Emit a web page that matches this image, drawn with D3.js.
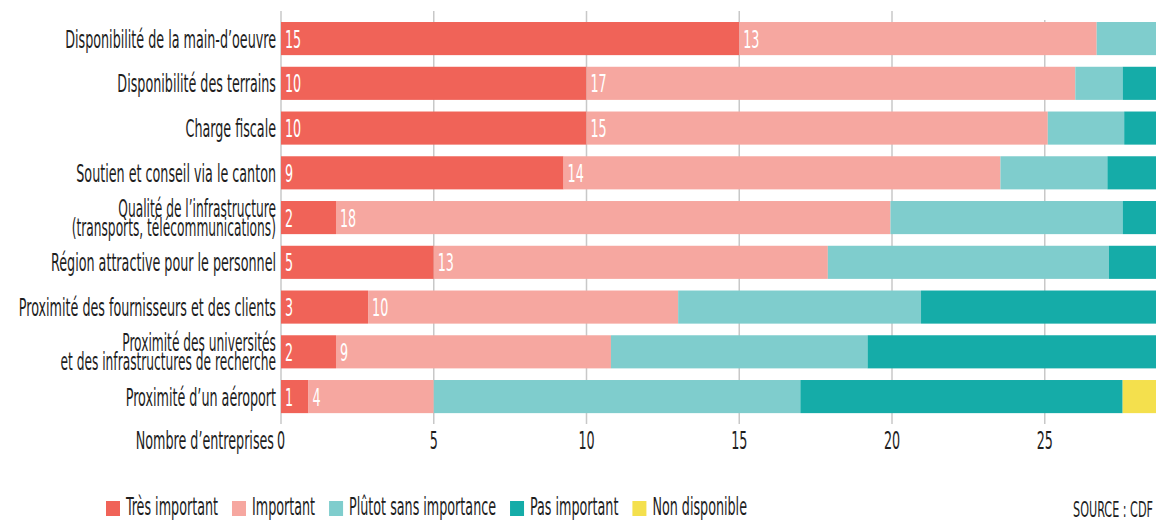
<!DOCTYPE html>
<html>
<head>
<meta charset="utf-8">
<script src="https://cdn.jsdelivr.net/npm/d3@7"></script>
<style>
  html, body { margin: 0; padding: 0; background: #fff; overflow: hidden; }
  svg { display: block; }
  text { font-family: "Liberation Sans Narrow", "DejaVu Sans Condensed", "Roboto", sans-serif; }
</style>
</head>
<body>
<svg id="chart" width="1156" height="520"></svg>
<script>
const categories = [
  "Disponibilité de la main-d’oeuvre",
  "Disponibilité des terrains",
  "Charge fiscale",
  "Soutien et conseil via le canton",
  "Qualité de l’infrastructure\n(transports, télécommunications)",
  "Région attractive pour le personnel",
  "Proximité des fournisseurs et des clients",
  "Proximité des universités\net des infrastructures de recherche",
  "Proximité d’un aéroport"
];
const seriesNames = ["Très important", "Important", "Plûtot sans importance", "Pas important", "Non disponible"];
const tresImportant = [15, 10, 10, 9.25, 1.8, 5, 2.85, 1.8, 0.9];
const important     = [11.7, 16.0, 15.1, 14.3, 18.15, 12.9, 10.15, 9.0, 4.1];
const plutotSans    = [2.3, 1.55, 2.5, 3.5, 7.6, 9.2, 7.95, 8.4, 12.0];
const pasImportant  = [0, 1.43, 1.43, 1.92, 1.43, 1.92, 8.05, 9.8, 10.55];
const nonDisponible = [0, 0, 0, 0, 0, 0, 0, 0, 1.43];
const labelsTresImportant = [15, 10, 10, 9, 2, 5, 3, 2, 1];
const labelsImportant     = [13, 17, 15, 14, 18, 13, 10, 9, 4];
const tickValues = [0, 5, 10, 15, 20, 25];
const colors = ["#f06358", "#f6a7a0", "#7fcdcd", "#15aca8", "#f4e04d"];

const svg = d3.select("#chart");
const FS = 25;
const textColor = "#1e1e1e";

// Condensing factor measured from the longest single-line label
const probe = svg.append("text").attr("font-size", FS).text(categories[0]);
const natural = probe.node().getComputedTextLength();
probe.remove();
const sx = 211 / natural;

const series = [tresImportant, important, plutotSans, pasImportant, nonDisponible];
const rows = categories.map((c, i) => {
  const o = { cat: c };
  seriesNames.forEach((s, j) => o[s] = series[j][i]);
  return o;
});
const stack = d3.stack().keys(seriesNames)(rows);

const x = d3.scaleLinear().domain([0, 25]).range([281, 281 + 25 * 30.55]);
const y = d3.scaleBand().domain(categories).range([16.2, 418.95]).paddingInner(0.26).paddingOuter(0.13);

// grid lines
svg.append("g").selectAll("line").data(tickValues).join("line")
  .attr("x1", d => x(d)).attr("x2", d => x(d))
  .attr("y1", d => d === 25 ? 20 : 11).attr("y2", 424)
  .attr("stroke", "#c8c8c8").attr("stroke-width", 1.5);

// bars
const layers = svg.append("g").selectAll("g").data(stack).join("g")
  .attr("fill", (d, i) => colors[i]);
layers.selectAll("rect").data(d => d).join("rect")
  .attr("x", d => x(d[0]))
  .attr("width", d => Math.max(0, x(d[1]) - x(d[0])))
  .attr("y", d => y(d.data.cat))
  .attr("height", y.bandwidth());

function condensedText(sel, px, py, anchor, fs) {
  return sel.append("text")
    .attr("transform", `translate(${px},${py}) scale(${sx},1)`)
    .attr("text-anchor", anchor)
    .attr("font-size", fs || FS);
}

// value labels
const labelSets = [labelsTresImportant, labelsImportant];
labelSets.forEach((labels, j) => {
  categories.forEach((c, i) => {
    const seg = stack[j][i];
    condensedText(svg, x(seg[0]) + 4, y(c) + y.bandwidth() / 2, "start")
      .attr("dy", "0.36em").attr("fill", "#fff").text(labels[i]);
  });
});

// category labels
categories.forEach(c => {
  const lines = c.split("\n");
  const cy = y(c) + y.bandwidth() / 2;
  const lh = 19;
  lines.forEach((ln, k) => {
    const off = (k - (lines.length - 1) / 2) * lh;
    condensedText(svg, 276, cy + off, "end", lines.length > 1 ? 24 : FS)
      .attr("dy", "0.36em").attr("fill", textColor).text(ln);
  });
});

// axis tick labels
tickValues.forEach(t => {
  condensedText(svg, x(t), 440, "middle").attr("dy", "0.36em").attr("fill", textColor).text(t);
});
condensedText(svg, 274, 440, "end").attr("dy", "0.36em").attr("fill", textColor).text("Nombre d’entreprises");

// legend
let lx = 106;
seriesNames.forEach((s, i) => {
  svg.append("rect").attr("x", lx).attr("y", 501).attr("width", 14).attr("height", 15).attr("fill", colors[i]);
  const t = condensedText(svg, lx + 20, 506, "start").attr("dy", "0.36em").attr("fill", textColor).text(s);
  const w = t.node().getComputedTextLength() * sx;
  lx += 20 + w + 14;
});

// source
condensedText(svg, 1153, 509, "end", 22).attr("dy", "0.36em").attr("fill", textColor)
  .text("SOURCE : CDF");
</script>
</body>
</html>
